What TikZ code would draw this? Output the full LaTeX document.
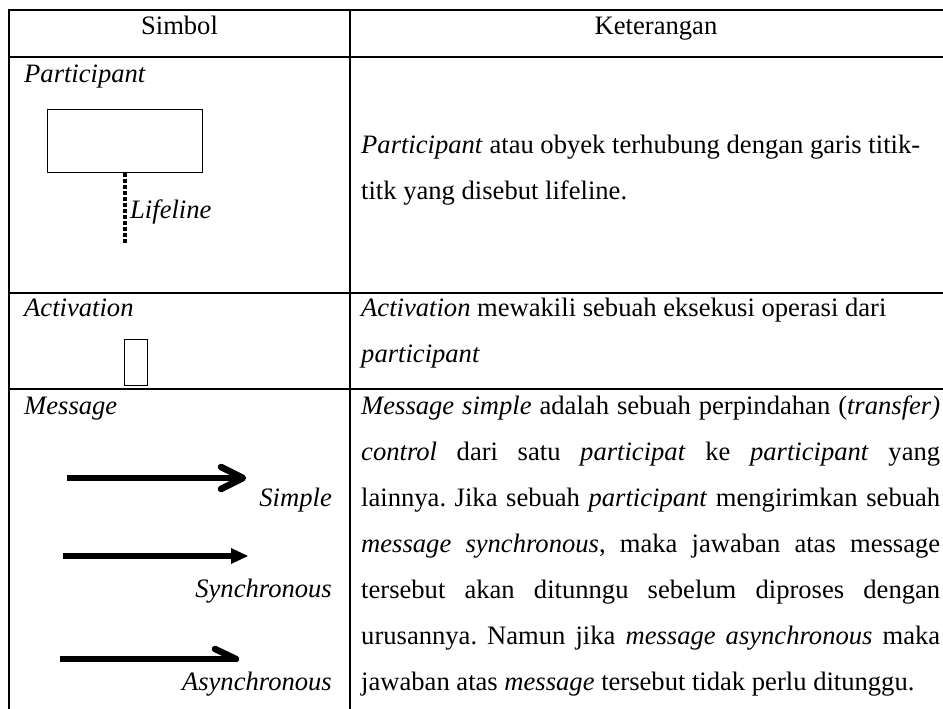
\documentclass[tikz,border=0pt]{standalone}
\usepackage{fontspec}
\setmainfont{Liberation Serif}
\usetikzlibrary{calc}
\frenchspacing
\begin{document}
\begin{tikzpicture}[x=1pt,y=-1pt,
  grid/.style={line width=2pt},
  txt/.style={anchor=base west, inner sep=0pt, font=\fontsize{26.6}{46}\selectfont\frenchspacing},
  txtr/.style={txt, anchor=base east},
  txtc/.style={txt, anchor=base},
  symbox/.style={draw, line width=1.3pt, inner sep=0pt, anchor=north west},
  lifeline/.style={line width=3.5pt, dash pattern=on 3.5pt off 2.5pt},
  shaft/.style={line width=6.5pt},
  barb/.style={line width=6.5pt, line cap=round, line join=round}]
\useasboundingbox (0,0) rectangle (943,709);
\fill[white] (0,0) rectangle (943,709);
% table grid
\draw[grid] (8,10) -- (943,10);
\draw[grid] (8,57) -- (943,57);
\draw[grid] (8,293) -- (943,293);
\draw[grid] (8,389) -- (943,389);
\draw[grid] (9,9) -- (9,709);
\draw[grid] (350,9) -- (350,709);
% header
\node[txtc] (hSimbol) at (179.5,35) {Simbol};
\node[txtc] (hKet) at (656,35) {Keterangan};
% participant row
\node[txt] (lPart) at (24,82) {\itshape Participant};
\node[symbox, minimum width=155pt, minimum height=63pt] (pbox) at (47,109) {};
\coordinate (lifeEnd) at (124,243);
\draw[lifeline] (pbox.south) -- (pbox.south |- lifeEnd);
\node[txt] (lLife) at (130,218) {\itshape Lifeline};
\node[txt] (rPart1) at (361,153) {\textit{Participant} atau obyek terhubung dengan garis titik-};
\node[txt] (rPart2) at (361,199) {titk yang disebut lifeline.};
% activation row
\node[txt] (lAct) at (24,316) {\itshape Activation};
\node[symbox, minimum width=23pt, minimum height=46pt] (abox) at (124,339) {};
\node[txt] (rAct1) at (361,316) {\textit{Activation} mewakili sebuah eksekusi operasi dari};
\node[txt] (rAct2) at (361,362) {\textit{participant}};
% message row
\node[txt] (lMsg) at (24,414) {\itshape Message};
% simple
\coordinate (sA) at (67,478);
\coordinate (sB) at (243,478);
\draw[shaft] (sA) -- (sB);
\draw[barb] ($(sB)+(-22,-11)$) -- (sB) -- ($(sB)+(-22,11)$);
\node[txtr] (lSimple) at (332,506) {\itshape Simple};
% synchronous
\coordinate (yA) at (63,556);
\coordinate (yB) at (248,556);
\draw[shaft] (yA) -- ($(yB)+(-14,0)$);
\fill (yB) -- ($(yB)+(-17,-8)$) -- ($(yB)+(-17,8)$) -- cycle;
\node[txtr] (lSync) at (332,597) {\itshape Synchronous};
% asynchronous
\coordinate (aA) at (60,659);
\coordinate (aB) at (236,659);
\draw[shaft] (aA) -- (aB);
\draw[barb] (aB) -- ($(aB)+(-21,-10)$);
\node[txtr] (lAsync) at (332,690) {\itshape Asynchronous};
% message description (justified)
\node[txt] (m1) at (361,414) {\makebox[579pt][s]{\textit{Message simple} adalah sebuah perpindahan (\textit{transfer)}}};
\node[txt] (m2) at (361,460) {\makebox[579pt][s]{\textit{control} dari satu \textit{participat} ke \textit{participant} yang}};
\node[txt] (m3) at (361,506) {\makebox[579pt][s]{lainnya. Jika sebuah \textit{participant} mengirimkan sebuah}};
\node[txt] (m4) at (361,552) {\makebox[579pt][s]{\textit{message synchronous}, maka jawaban atas message}};
\node[txt] (m5) at (361,598) {\makebox[579pt][s]{tersebut akan ditunngu sebelum diproses dengan}};
\node[txt] (m6) at (361,644) {\makebox[579pt][s]{urusannya. Namun jika \textit{message asynchronous} maka}};
\node[txt] (m7) at (361,690) {jawaban atas \textit{message} tersebut tidak perlu ditunggu.};
\end{tikzpicture}
\end{document}
